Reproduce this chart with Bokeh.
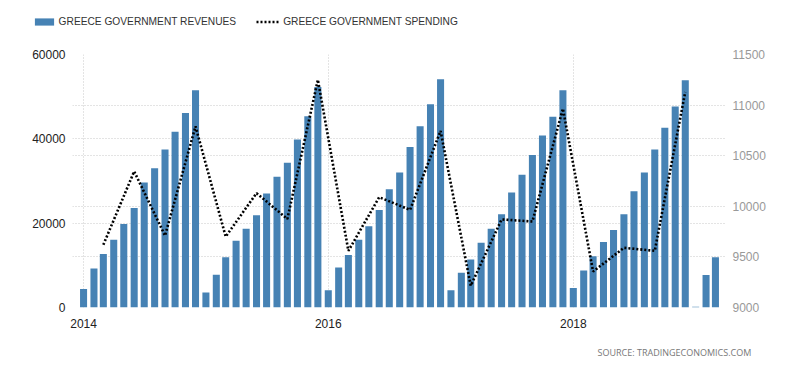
import pandas as pd
from bokeh.plotting import figure
from bokeh.layouts import column
from bokeh.models import (Range1d, LinearAxis, FixedTicker, DatetimeTickFormatter,
                          Grid, Legend, LegendItem, Label, ColumnDataSource)
from bokeh.embed import file_html
from bokeh.resources import INLINE

# ---- data ----
rev_start = "2014-01-01"
revenues = [
    4360, 9270, 12680, 16090, 19800, 23620, 29640, 33050, 37490, 41690, 46130, 51520,
    3570, 7770, 11890, 15850, 18700, 21880, 27030, 30990, 34320, 39870, 45340, 52310,
    4120, 9510, 12440, 16090, 19260, 23140, 28060, 32020, 38040, 42960, 48190, 54130,
    4120, 8240, 11410, 15380, 18700, 22100, 27300, 31470, 36140, 40820, 45260, 51520,
    4600, 8800, 12130, 15530, 18390, 22110, 27580, 32020, 37490, 42640, 47640, 53900,
    200, 7700, 11930,
]
spend_start = "2014-03-01"
spending = [
    9620, 10345, 9710, 10790,
    9700, 10130, 9875, 11250,
    9560, 10090, 9965, 10745,
    9215, 9870, 9850, 10965,
    9355, 9590, 9560, 11130,
]
year_ticks = ["2014-01-01", "2016-01-01", "2018-01-01"]
left_ticks = [0, 20000, 40000, 60000]
right_ticks = [9000, 9500, 10000, 10500, 11000, 11500]
series_names = ["GREECE GOVERNMENT REVENUES", "GREECE GOVERNMENT SPENDING"]
source_text = "SOURCE:  TRADINGECONOMICS.COM"

BAR_COLOR = "#4682b4"
W = 784

rev_dates = pd.date_range(rev_start, periods=len(revenues), freq="MS")
spend_dates = pd.date_range(spend_start, periods=len(spending), freq="3MS")

rev_src = ColumnDataSource(dict(x=rev_dates, y=revenues))
spend_src = ColumnDataSource(dict(x=spend_dates, y=spending))


def blank_fig(h):
    f = figure(width=W, height=h, x_range=Range1d(0, 1), y_range=Range1d(0, 1),
               output_backend="svg", toolbar_location=None, frame_align=False)
    f.min_border = 0
    f.min_border_left = f.min_border_right = f.min_border_top = f.min_border_bottom = 0
    f.axis.visible = False
    f.grid.visible = False
    f.outline_line_color = None
    return f


# ---- legend strip (same sources; marks fall outside this strip's range) ----
lf = blank_fig(40)
px = lf.vbar(x="x", top="y", source=rev_src, width=0.1, fill_color=BAR_COLOR, line_color=None)
pl = lf.line(x="x", y="y", source=spend_src, line_color="black", line_width=2.6, line_dash="2 2")
legend = Legend(items=[LegendItem(label=series_names[0], renderers=[px]),
                       LegendItem(label=series_names[1], renderers=[pl])],
                orientation="horizontal", location=(31.6, 13.5),
                padding=0, margin=0, spacing=20,
                glyph_width=24, glyph_height=9, label_height=9, label_standoff=3,
                label_text_font="Liberation Sans", label_text_font_size="10.2px",
                label_text_color="#333333",
                border_line_color=None, background_fill_alpha=0)
lf.add_layout(legend, "center")

# ---- main chart ----
p = figure(width=W, height=295, x_axis_type="datetime",
           x_range=Range1d(pd.Timestamp("2013-11-29"), pd.Timestamp("2019-03-31")),
           y_range=Range1d(0, 60000),
           output_backend="svg", toolbar_location=None, frame_align=False)
p.min_border_left = 72
p.min_border_right = 59
p.min_border_top = 14
p.min_border_bottom = 28
p.outline_line_color = None

p.extra_y_ranges = {"spend": Range1d(9000, 11500)}

bar_w = pd.Timedelta(days=21).total_seconds() * 1000
p.vbar(x="x", top="y", width=bar_w, source=rev_src, fill_color=BAR_COLOR, line_color=None)
p.line(x="x", y="y", source=spend_src, y_range_name="spend",
       line_color="black", line_width=2.6, line_dash="2 2")

xa = p.xaxis[0]
xa.ticker = FixedTicker(ticks=[pd.Timestamp(t).value / 1e6 for t in year_ticks])
xa.formatter = DatetimeTickFormatter(years="%Y", months="%Y", days="%Y", hours="%Y")
ya = p.yaxis[0]
ya.ticker = FixedTicker(ticks=left_ticks)
right_axis = LinearAxis(y_range_name="spend", ticker=FixedTicker(ticks=right_ticks))
p.add_layout(right_axis, "right")

for ax in (xa, ya, right_axis):
    ax.axis_line_color = None
    ax.major_tick_line_color = None
    ax.minor_tick_line_color = None
    ax.major_label_text_font = "Liberation Sans"
    ax.major_label_text_font_size = "12px"
xa.major_label_text_color = "#222222"
ya.major_label_text_color = "#222222"
right_axis.major_label_text_color = "#999999"
xa.major_label_standoff = 5
ya.major_label_standoff = 1
right_axis.major_label_standoff = 1

grid_style = dict(grid_line_color="#c8c8c8", grid_line_dash="1 2", grid_line_width=1)
p.xgrid.ticker = xa.ticker
p.ygrid.ticker = ya.ticker
for g in (p.xgrid[0], p.ygrid[0]):
    for k, v in grid_style.items():
        setattr(g, k, v)
p.add_layout(Grid(dimension=1, ticker=right_axis.ticker, y_range_name="spend", **grid_style))

# ---- source strip ----
sf = blank_fig(22)
sf.add_layout(Label(x=597, y=5, x_units="screen", y_units="screen",
                    text=source_text, text_font="Open Sans", text_font_size="9px",
                    text_color="#777777", text_baseline="middle"))

layout = column(lf, p, sf, spacing=0)
open("out.html", "w").write(file_html(layout, INLINE))
